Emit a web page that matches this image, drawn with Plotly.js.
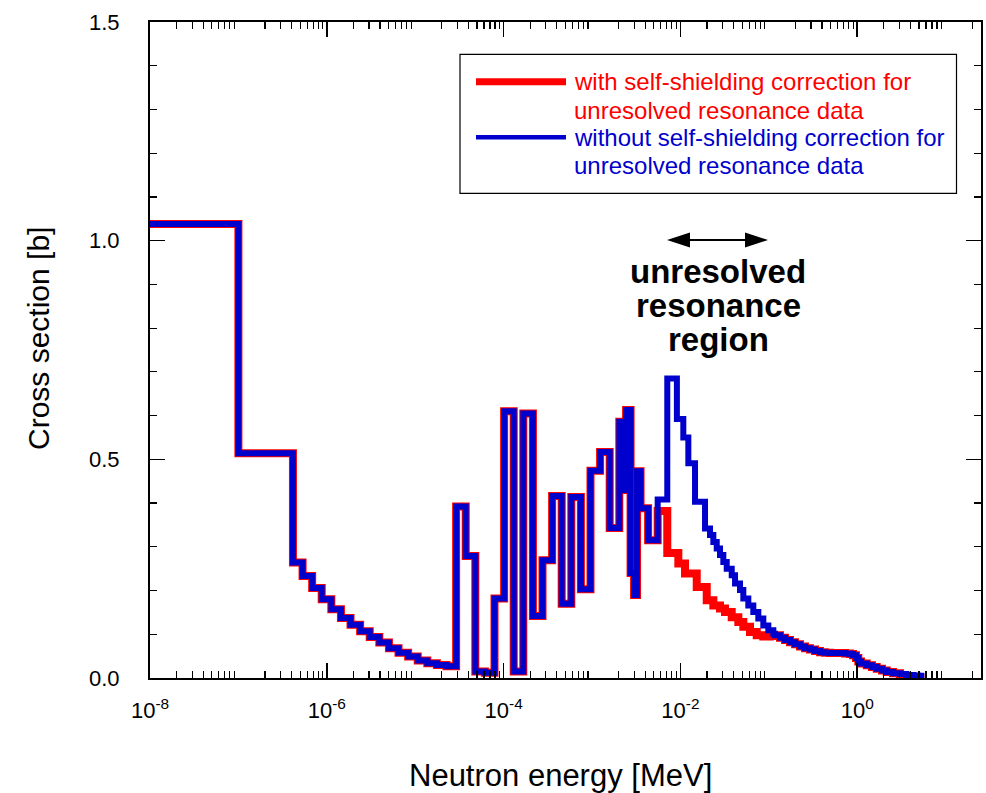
<!DOCTYPE html>
<html>
<head>
<meta charset="utf-8">
<script src="https://cdn.plot.ly/plotly-3.0.1.min.js"></script>
<style>
  html, body { margin: 0; padding: 0; background: #ffffff; }
  #chart { width: 986px; height: 793px; }
</style>
</head>
<body>
<div id="chart"></div>
<script>
// Group-wise cross section [b] vs neutron energy [MeV].
// Each energy array holds the lower edges of the energy groups; the value
// arrays hold the group cross sections.

// Thermal / resolved-resonance range (both curves identical)
const eShared = [1.0e-8, 1.0e-7, 4.14e-7, 5.32e-7, 6.83e-7, 8.76e-7, 1.125e-6, 1.445e-6,
  1.855e-6, 2.382e-6, 3.059e-6, 3.928e-6, 5.044e-6, 6.476e-6, 8.316e-6, 1.068e-5,
  1.371e-5, 1.760e-5, 2.260e-5, 2.902e-5, 3.727e-5, 4.785e-5, 6.144e-5, 7.889e-5,
  1.013e-4, 1.301e-4, 1.670e-4, 2.145e-4, 2.754e-4, 3.536e-4, 4.540e-4, 5.830e-4,
  7.485e-4, 9.611e-4, 1.234e-3, 1.585e-3, 2.035e-3, 2.21e-3, 2.43e-3, 2.73e-3,
  2.99e-3, 3.23e-3, 3.54e-3, 4.31e-3];
const xsShared = [1.038, 0.514, 0.264, 0.233, 0.206, 0.180, 0.157, 0.137,
  0.122, 0.107, 0.094, 0.081, 0.068, 0.058, 0.049, 0.040,
  0.034, 0.030, 0.027, 0.392, 0.279, 0.015, 0.012, 0.182,
  0.610, 0.015, 0.605, 0.142, 0.269, 0.416, 0.170, 0.414,
  0.203, 0.474, 0.517, 0.343, 0.586, 0.430, 0.613, 0.240,
  0.190, 0.473, 0.388, 0.315];

// Unresolved resonance range, with self-shielding correction
const eWith = [5.53e-3, 7.10e-3, 9.47e-3, 1.127e-2, 1.529e-2, 1.984e-2, 2.357e-2, 2.805e-2,
  3.195e-2, 3.804e-2, 4.519e-2, 5.147e-2, 6.127e-2, 7.295e-2, 8.663e-2, 1.032e-1];
const xsWith = [0.382, 0.286, 0.262, 0.239, 0.208, 0.178, 0.166, 0.159,
  0.151, 0.139, 0.128, 0.117, 0.105, 0.098, 0.095, 0.096];

// Unresolved resonance range, without self-shielding correction
const eWithout = [5.53e-3, 7.10e-3, 9.12e-3, 1.078e-2, 1.229e-2, 1.463e-2, 1.898e-2, 2.162e-2,
  2.357e-2, 2.574e-2, 2.805e-2, 3.057e-2, 3.340e-2, 3.804e-2, 4.147e-2, 4.723e-2,
  5.147e-2, 5.862e-2, 6.677e-2, 7.605e-2, 8.663e-2, 9.870e-2, 1.124e-1];
const xsWithout = [0.408, 0.685, 0.592, 0.550, 0.491, 0.403, 0.342, 0.327,
  0.311, 0.296, 0.281, 0.265, 0.250, 0.235, 0.216, 0.201,
  0.182, 0.166, 0.151, 0.136, 0.120, 0.109, 0.101];

// Fast range (both curves identical)
const eTail = [0.1175, 0.1338, 0.1526, 0.1737, 0.1979, 0.2254, 0.2567, 0.2924,
  0.3332, 0.3795, 0.4323, 0.4924, 0.5608, 0.6389, 0.7278, 0.8290,
  0.8966, 0.9692, 1.029, 1.104, 1.281, 1.470, 1.662, 1.908, 2.157, 2.541];
const xsTail = [0.098, 0.092, 0.087, 0.082, 0.077, 0.072, 0.068, 0.065,
  0.062, 0.059, 0.058, 0.057, 0.057, 0.057, 0.056, 0.055,
  0.052, 0.046, 0.038, 0.033, 0.029, 0.025, 0.021, 0.017, 0.0135, 0.011];

// Highest groups (edges include the upper end of the last group)
const eEnd = [3.050, 3.565, 4.311, 4.873, 5.741];
const xsEndWith = [0.006, 0.003, 0.002, 0.001];
const xsEndWithout = [0.009, 0.007, 0.006, 0.005];

const legendWith = ['with self-shielding correction for', 'unresolved resonance data'];
const legendWithout = ['without self-shielding correction for', 'unresolved resonance data'];
const regionLabel = ['unresolved', 'resonance', 'region'];

// labelled decades and the unlabelled decades in between
const xTickVals = [1e-8, 1e-6, 1e-4, 1e-2, 1e0];
const xTickText = ['10<sup>-8</sup>', '10<sup>-6</sup>', '10<sup>-4</sup>', '10<sup>-2</sup>', '10<sup>0</sup>'];
const xOddDecades = [1e-7, 1e-5, 1e-3, 1e-1, 1e1];
const yTickVals = [0, 0.5, 1.0, 1.5];
const yTickText = ['0.0', '0.5', '1.0', '1.5'];

const RED = '#ff0000';
const BLUE = '#0000cc';
const FONT = 'Liberation Sans, Arial, Helvetica, sans-serif';

// histogram edges -> step polyline (last value repeated at the upper edge)
function steps(edges, values) {
  return { x: edges.slice(), y: values.concat([values[values.length - 1]]) };
}
const stWith = steps(eShared.concat(eWith, eTail, eEnd), xsShared.concat(xsWith, xsTail, xsEndWith));
const stWithout = steps(eShared.concat(eWithout, eTail, eEnd), xsShared.concat(xsWithout, xsTail, xsEndWithout));

const traces = [
  { x: stWith.x, y: stWith.y, type: 'scatter', mode: 'lines', line: { shape: 'hv', color: RED, width: 8 },
    name: legendWith.join(' '), showlegend: false, hoverinfo: 'x+y' },
  { x: stWithout.x, y: stWithout.y, type: 'scatter', mode: 'lines', line: { shape: 'hv', color: BLUE, width: 6 },
    name: legendWithout.join(' '), showlegend: false, hoverinfo: 'x+y' }
];

// minor ticks 2..9 of every decade on the energy axis
const xMinor = [];
for (let p = -8; p <= 1; p++) for (let d = 2; d <= 9; d++) xMinor.push(d * Math.pow(10, p));

// plot frame in pixels, used to place the legend box and the region marker
const L = 150, R = 981, T = 22, B = 678;
const fx = v => (v - L) / (R - L);
const fy = v => (B - v) / (B - T);

const shapes = [
  { type: 'rect', xref: 'paper', yref: 'paper', x0: fx(460), x1: fx(956.5), y0: fy(193.3), y1: fy(54.3),
    line: { color: '#000000', width: 1.2 }, fillcolor: '#ffffff' },
  { type: 'line', xref: 'paper', yref: 'paper', x0: fx(476), x1: fx(566), y0: fy(81.7), y1: fy(81.7),
    line: { color: RED, width: 7 } },
  { type: 'line', xref: 'paper', yref: 'paper', x0: fx(476), x1: fx(566), y0: fy(137.3), y1: fy(137.3),
    line: { color: BLUE, width: 4.5 } },
  // double-headed arrow spanning the unresolved resonance range
  { type: 'line', xref: 'paper', yref: 'paper', x0: fx(686), x1: fx(749), y0: fy(240), y1: fy(240),
    line: { color: '#000000', width: 2 } },
  { type: 'path', xref: 'paper', yref: 'paper',
    path: `M${fx(667)},${fy(240)} L${fx(690)},${fy(232.5)} L${fx(690)},${fy(247.5)} Z`,
    fillcolor: '#000000', line: { color: '#000000', width: 0 } },
  { type: 'path', xref: 'paper', yref: 'paper',
    path: `M${fx(768)},${fy(240)} L${fx(745)},${fy(232.5)} L${fx(745)},${fy(247.5)} Z`,
    fillcolor: '#000000', line: { color: '#000000', width: 0 } }
];

const ann = [];
const legendRows = [
  [legendWith[0], RED, 81.7], [legendWith[1], RED, 110],
  [legendWithout[0], BLUE, 137.5], [legendWithout[1], BLUE, 165]
];
legendRows.forEach(r => ann.push({
  xref: 'paper', yref: 'paper', x: fx(572), y: fy(r[2]), xanchor: 'left', yanchor: 'middle',
  text: r[0], showarrow: false, font: { family: FONT, size: 24, color: r[1] }
}));
[271, 305, 339].forEach((yy, i) => ann.push({
  xref: 'paper', yref: 'paper', x: fx(718), y: fy(yy), xanchor: 'center', yanchor: 'middle',
  text: '<b>' + regionLabel[i] + '</b>', showarrow: false, font: { family: FONT, size: 33, color: '#000000' }
}));
// axis titles
ann.push({ xref: 'paper', yref: 'paper', x: fx(560), y: fy(775), xanchor: 'center', yanchor: 'middle',
  text: 'Neutron energy [MeV]', showarrow: false, font: { family: FONT, size: 31, color: '#000000' } });
ann.push({ xref: 'paper', yref: 'paper', x: fx(38), y: fy(339), xanchor: 'center', yanchor: 'middle',
  text: 'Cross section [b]', textangle: -90, showarrow: false, font: { family: FONT, size: 30, color: '#000000' } });

const frame = { showline: true, linecolor: '#000000', linewidth: 2, mirror: 'allticks',
  showgrid: false, zeroline: false, ticks: 'inside', ticklen: 15, tickwidth: 1.5, tickcolor: '#000000' };

const layout = {
  width: 986, height: 793,
  margin: { l: 150, r: 5, t: 22, b: 115, pad: 0 },
  paper_bgcolor: '#ffffff', plot_bgcolor: '#ffffff',
  showlegend: false,
  font: { family: FONT, color: '#000000' },
  xaxis: Object.assign({}, frame, {
    type: 'log', range: [-8, 1.4], autorange: false,
    tickmode: 'array', tickvals: xTickVals, ticktext: xTickText,
    tickfont: { family: FONT, size: 22, color: '#000000' },
    ticklabelstandoff: 12,
    minor: { tickmode: 'array', tickvals: xMinor, ticks: 'inside', ticklen: 7, tickwidth: 1.2, tickcolor: '#000000', showgrid: false }
  }),
  // unlabelled long ticks at the odd decades
  xaxis2: Object.assign({}, frame, {
    type: 'log', range: [-8, 1.4], autorange: false, overlaying: 'x', anchor: 'y', side: 'bottom',
    tickmode: 'array', tickvals: xOddDecades, showticklabels: false
  }),
  yaxis: Object.assign({}, frame, {
    range: [0, 1.5], autorange: false,
    tickmode: 'array', tickvals: yTickVals, ticktext: yTickText,
    tickfont: { family: FONT, size: 22, color: '#000000' },
    ticklabelstandoff: 24,
    minor: { dtick: 0.1, ticks: 'inside', ticklen: 7, tickwidth: 1.2, tickcolor: '#000000', showgrid: false }
  }),
  shapes: shapes,
  annotations: ann
};

Plotly.newPlot('chart', traces, layout, { displayModeBar: false, staticPlot: true });
</script>
</body>
</html>
